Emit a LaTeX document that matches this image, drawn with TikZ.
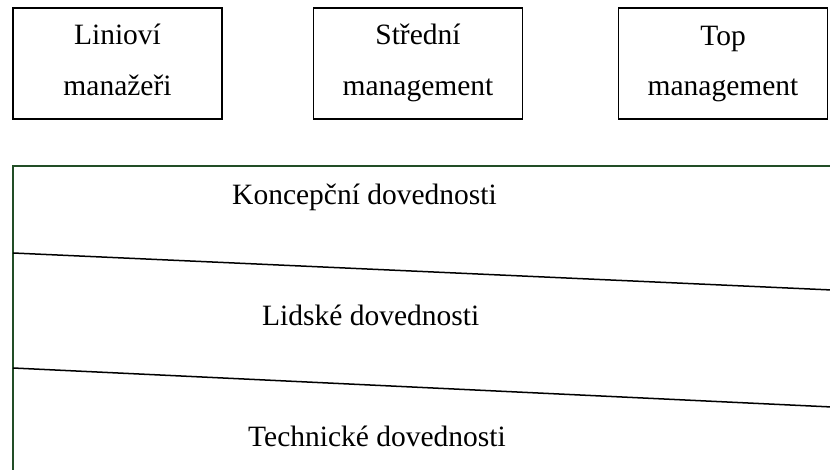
\documentclass[tikz,border=0pt]{standalone}
\usepackage{fontspec}
\setmainfont{Liberation Serif}
\definecolor{framegreen}{RGB}{34,78,38}
\begin{document}
\begin{tikzpicture}[x=1bp,y=-1bp,
  levelbox/.style={draw=black, line width=1.4bp, minimum width=209bp,
    minimum height=111bp, inner sep=0pt},
  lbl/.style={anchor=base, inner sep=0pt, font=\fontsize{29.5bp}{35bp}\selectfont},
  bandlbl/.style={lbl, anchor=base west},
  divider/.style={draw=black, line width=1.5bp},
  frame/.style={draw=framegreen, line width=2bp}]
\useasboundingbox (0,0) rectangle (830,470);

% management levels
\node[levelbox] (lin) at (117.5,63.5) {};
\node[levelbox] (mid) at (418,63.5) {};
\node[levelbox] (top) at (723,63.5) {};
\node[lbl] (linA) at (117.5,45) {Linioví};
\node[lbl] (linB) at (117.5,96) {manažeři};
\node[lbl] (midA) at (418,45) {Střední};
\node[lbl] (midB) at (418,96) {management};
\node[lbl] (topA) at (723,46) {Top};
\node[lbl] (topB) at (723,96) {management};

% skills area frame
\coordinate (fb) at (13,474);
\coordinate (fc) at (13,166);
\coordinate (fe) at (834,166);
\draw[frame] (fb) -- (fc) -- (fe);

% sloped boundaries between the skill bands
\coordinate (s1a) at (13,253);
\coordinate (s1b) at (832,290);
\coordinate (s2a) at (13,368);
\coordinate (s2b) at (832,407);
\draw[divider] (s1a) -- (s1b);
\draw[divider] (s2a) -- (s2b);

% skill bands
\node[bandlbl] (konc) at (232,205) {Koncepční dovednosti};
\node[bandlbl] (lids) at (262,326) {Lidské dovednosti};
\node[bandlbl] (tech) at (248,446) {Technické dovednosti};
\end{tikzpicture}
\end{document}
